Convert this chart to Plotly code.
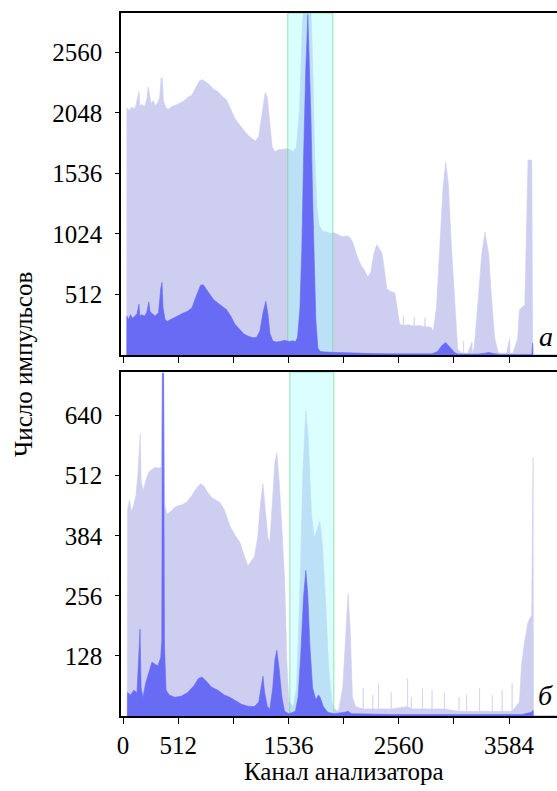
import plotly.graph_objects as go
from plotly.subplots import make_subplots

# ---------------- data ----------------
# panel "а": total spectrum (light) and coincidence spectrum (dark)
top_total_ch = [35, 36, 60, 80, 100, 120, 140, 148, 156, 175, 200, 220, 235, 245, 260, 280, 300, 320, 340,
                355, 365, 375, 400, 420, 450, 500, 550, 600, 640, 680, 710, 740, 770, 800, 840, 880, 920,
                960, 1000, 1040, 1080, 1120, 1160, 1200, 1230, 1260, 1290, 1320, 1340, 1360, 1385, 1410,
                1440, 1480, 1520, 1550, 1580, 1610, 1640, 1665, 1690, 1716, 1740, 1760, 1780, 1800, 1820,
                1850, 1890, 1930, 1960, 2000, 2040, 2080, 2105, 2130, 2152, 2180, 2210, 2240, 2272, 2300,
                2330, 2356, 2380, 2405, 2430, 2449, 2480, 2523, 2545, 2569, 2600, 2604, 2606, 2650, 2700,
                2704, 2706, 2750, 2800, 2804, 2806, 2860, 2880, 2910, 2940, 2970, 2996, 3020, 3050, 3080,
                3107, 3140, 3160, 3162, 3164, 3200, 3240, 3242, 3244, 3260, 3300, 3330, 3360, 3395, 3420,
                3450, 3480, 3500, 3560, 3590, 3592, 3594, 3620, 3660, 3662, 3664, 3680, 3710, 3730, 3760,
                3795, 3799, 3803, 3806, 4030]
top_total_val = [0, 2090, 2070, 2100, 2080, 2110, 2200, 2230, 2110, 2120, 2100, 2160, 2270, 2200, 2130, 2150,
                 2110, 2130, 2180, 2350, 2340, 2150, 2090, 2080, 2100, 2120, 2140, 2180, 2200, 2270, 2320,
                 2330, 2310, 2290, 2250, 2230, 2190, 2160, 2080, 2000, 1950, 1900, 1860, 1830, 1810, 1850,
                 2050, 2220, 2180, 1980, 1760, 1720, 1735, 1740, 1745, 1740, 1720, 1760, 2100, 2800, 3100,
                 3200, 3050, 2500, 1700, 1250, 1100, 1050, 1040, 1030, 1035, 1020, 1000, 1010, 995, 960,
                 890, 820, 760, 720, 660, 700, 860, 935, 900, 860, 700, 560, 540, 525, 400, 260, 250, 330,
                 250, 255, 245, 320, 245, 250, 240, 320, 240, 235, 200, 400, 900, 1400, 1630, 1450, 900,
                 400, 50, 20, 15, 120, 15, 15, 110, 15, 20, 60, 500, 850, 1040, 850, 500, 150, 30, 15, 15,
                 140, 12, 12, 15, 130, 20, 150, 380, 410, 420, 1650, 1650, 0, 0]
top_coinc_ch = [35, 36, 50, 70, 90, 110, 130, 148, 156, 175, 200, 220, 240, 250, 270, 300, 330, 350, 362,
                372, 390, 410, 440, 480, 520, 560, 600, 640, 680, 720, 745, 770, 800, 840, 880, 920, 960,
                1000, 1040, 1085, 1120, 1160, 1206, 1240, 1270, 1300, 1326, 1345, 1365, 1390, 1420, 1460,
                1500, 1540, 1580, 1600, 1620, 1642, 1660, 1676, 1696, 1716, 1730, 1745, 1760, 1775, 1790,
                1809, 1830, 1880, 1950, 2050, 2150, 2300, 2500, 2700, 2870, 2920, 2960, 2996, 3030, 3080,
                3110, 3300, 3360, 3395, 3440, 3500, 3795, 3799, 3803, 3806, 4030]
top_coinc_val = [0, 330, 300, 340, 310, 330, 350, 430, 330, 340, 330, 360, 450, 370, 350, 330, 360, 560, 615,
                 400, 300, 285, 300, 320, 340, 355, 370, 400, 500, 590, 595, 560, 520, 470, 440, 410, 385,
                 330, 260, 215, 180, 160, 145, 150, 200, 360, 455, 350, 180, 120, 110, 115, 125, 115, 120,
                 110, 150, 385, 900, 1650, 2400, 2880, 2500, 2000, 1350, 700, 300, 60, 30, 25, 22, 18, 15,
                 12, 10, 10, 10, 30, 80, 105, 70, 20, 8, 8, 15, 22, 12, 5, 5, 100, 100, 0, 0]

# panel "б"
bot_total_ch = [40, 42, 60, 80, 100, 120, 140, 152, 160, 168, 186, 210, 240, 269, 300, 330, 355, 365, 378,
                388, 408, 440, 480, 510, 550, 593, 640, 680, 720, 750, 790, 825, 860, 900, 940, 992, 1040,
                1085, 1120, 1160, 1190, 1220, 1250, 1275, 1299, 1320, 1345, 1363, 1385, 1410, 1428, 1450,
                1475, 1502, 1520, 1540, 1580, 1610, 1640, 1670, 1697, 1720, 1750, 1775, 1800, 1827, 1850,
                1880, 1910, 1940, 1960, 2000, 2040, 2070, 2090, 2110, 2130, 2160, 2229, 2230, 2231, 2318,
                2319, 2320, 2371, 2372, 2373, 2489, 2490, 2491, 2641, 2642, 2643, 2676, 2677, 2678, 2779,
                2780, 2781, 2868, 2869, 2870, 2983, 2984, 2985, 3119, 3120, 3121, 3188, 3189, 3190, 3309,
                3310, 3311, 3428, 3429, 3430, 3519, 3520, 3521, 3611, 3612, 3613, 3680, 3700, 3729, 3760,
                3794, 3804, 3807, 3810, 4030]
bot_total_val = [0, 440, 460, 435, 450, 470, 520, 590, 600, 500, 480, 500, 520, 525, 530, 528, 530, 735, 735,
                 450, 430, 435, 445, 448, 450, 456, 470, 485, 495, 490, 475, 465, 460, 455, 440, 405, 385,
                 370, 345, 320, 330, 340, 380, 450, 495, 440, 380, 370, 450, 540, 560, 500, 400, 280, 120,
                 30, 20, 60, 250, 520, 650, 590, 430, 380, 395, 415, 370, 250, 100, 30, 15, 10, 60, 180,
                 260, 180, 40, 20, 15, 60, 15, 15, 45, 15, 15, 70, 15, 15, 50, 15, 20, 80, 20, 15, 40,
                 15, 15, 60, 15, 15, 55, 15, 15, 50, 15, 10, 40, 10, 10, 45, 10, 10, 60, 10, 10, 45, 10,
                 10, 55, 10, 10, 70, 10, 30, 110, 160, 200, 215, 550, 550, 0, 0]
bot_coinc_ch = [40, 42, 70, 100, 130, 145, 158, 168, 186, 210, 240, 269, 300, 325, 350, 360, 366, 376, 385,
                400, 430, 480, 540, 600, 660, 700, 733, 770, 820, 880, 940, 992, 1050, 1100, 1160, 1220,
                1260, 1285, 1299, 1315, 1340, 1363, 1390, 1410, 1428, 1450, 1475, 1500, 1540, 1600, 1625,
                1650, 1675, 1697, 1715, 1735, 1760, 1790, 1815, 1830, 1860, 1900, 1960, 2060, 2090, 2120,
                2500, 3700, 3794, 3804, 3807, 3810, 4030]
bot_coinc_val = [0, 50, 45, 55, 50, 120, 185, 60, 40, 70, 95, 115, 110, 107, 125, 160, 730, 730, 150, 55,
                 45, 40, 42, 50, 65, 80, 83, 75, 62, 55, 45, 40, 32, 25, 21, 20, 30, 70, 85, 50, 20, 15,
                 60, 120, 140, 100, 40, 10, 5, 10, 40, 130, 250, 310, 260, 150, 60, 35, 45, 40, 20, 8, 5,
                 8, 10, 5, 3, 3, 8, 12, 12, 0, 0]

# analyser window (channel range) in each panel
top_window = [1530, 1948]
bot_window = [1549, 1957]

x_tick_vals = [0, 512, 1024, 1536, 2048, 2560, 3072, 3584]
x_tick_text = ["0", "512", "", "1536", "", "2560", "", "3584"]
top_y_ticks = [512, 1024, 1536, 2048, 2560]
bot_y_ticks = [128, 256, 384, 512, 640]

# ---------------- styling ----------------
FONT = "Liberation Serif"
LIGHT = "rgb(206,206,241)"
DARK = "rgb(104,108,244)"
BAND = "rgba(160,255,255,0.38)"
BAND_EDGE = "rgba(120,215,150,0.75)"

fig = make_subplots(rows=2, cols=1, shared_xaxes=False, vertical_spacing=0.0)


def add_panel(row, tot_x, tot_y, co_x, co_y, win, ymax):
    fig.add_trace(go.Scatter(x=tot_x, y=tot_y, mode="lines", fill="tozeroy",
                             fillcolor=LIGHT, line=dict(color=LIGHT, width=0.6),
                             hoverinfo="skip", showlegend=False), row=row, col=1)
    fig.add_trace(go.Scatter(x=[win[0], win[0], win[1], win[1], win[0]],
                             y=[0, ymax, ymax, 0, 0], mode="lines", fill="toself",
                             fillcolor=BAND, line=dict(color=BAND_EDGE, width=1),
                             hoverinfo="skip", showlegend=False), row=row, col=1)
    fig.add_trace(go.Scatter(x=co_x, y=co_y, mode="lines", fill="tozeroy",
                             fillcolor=DARK, line=dict(color=DARK, width=0.6),
                             hoverinfo="skip", showlegend=False), row=row, col=1)


TOP_YMAX = 2894
BOT_YMAX = 733
add_panel(1, top_total_ch, top_total_val, top_coinc_ch, top_coinc_val, top_window, TOP_YMAX)
add_panel(2, bot_total_ch, bot_total_val, bot_coinc_ch, bot_coinc_val, bot_window, BOT_YMAX)

W, H = 557, 791
L, R, T, B = 121, 0, 13, 791 - 716
ph = H - T - B
pw = W - L - R
top_lo = (716 - 355) / ph
bot_hi = (716 - 372) / ph

xcommon = dict(range=[-18.6, 4029], showline=True, linecolor="black", linewidth=1.6, mirror=True,
               ticks="outside", ticklen=6, tickwidth=1, tickcolor="black", showgrid=False,
               zeroline=False, tickvals=x_tick_vals, ticktext=x_tick_text,
               tickfont=dict(family=FONT, size=25, color="black"))
ycommon = dict(showline=True, linecolor="black", linewidth=1.6, mirror=False, ticks="outside",
               ticklen=4, tickwidth=1, tickcolor="black", showgrid=False, zeroline=False,
               ticklabelstandoff=8, tickfont=dict(family=FONT, size=25, color="black"))

fig.update_layout(
    width=W, height=H, margin=dict(l=L, r=R, t=T, b=B),
    paper_bgcolor="white", plot_bgcolor="white",
    xaxis=dict(xcommon, domain=[0, 1], anchor="y", showticklabels=False),
    yaxis=dict(ycommon, domain=[top_lo, 1], range=[0, TOP_YMAX], tickvals=top_y_ticks, anchor="x"),
    xaxis2=dict(xcommon, domain=[0, 1], anchor="y2"),
    yaxis2=dict(ycommon, domain=[0, bot_hi], range=[0, BOT_YMAX], tickvals=bot_y_ticks, anchor="x2"),
    font=dict(family=FONT, size=25, color="black"),
)

fig.add_annotation(text="Число импульсов", textangle=-90, xref="paper", yref="paper",
                   x=(23 - 121) / pw, y=(716 - 365) / ph, xanchor="center", yanchor="middle",
                   showarrow=False, font=dict(family=FONT, size=25, color="black"))
fig.add_annotation(text="Канал анализатора", xref="paper", yref="paper",
                   x=(344 - 121) / pw, y=(716 - 772) / ph, xanchor="center", yanchor="middle",
                   showarrow=False, font=dict(family=FONT, size=25, color="black"))
fig.add_annotation(text="<i>а</i>", xref="paper", yref="paper",
                   x=(546 - 121) / pw, y=(716 - 336) / ph, xanchor="center", yanchor="middle",
                   showarrow=False, font=dict(family=FONT, size=28, color="black"))
fig.add_annotation(text="<i>б</i>", xref="paper", yref="paper",
                   x=(545 - 121) / pw, y=(716 - 695) / ph, xanchor="center", yanchor="middle",
                   showarrow=False, font=dict(family=FONT, size=28, color="black"))

# remove the default page margin so the 557x791 figure fills the window exactly
page_fix = ("document.body.style.margin='0px';document.body.style.padding='0px';"
            "document.body.style.overflow='hidden';document.documentElement.style.overflow='hidden';")
fig.write_html("out.html", post_script=page_fix, config={"displayModeBar": False})
